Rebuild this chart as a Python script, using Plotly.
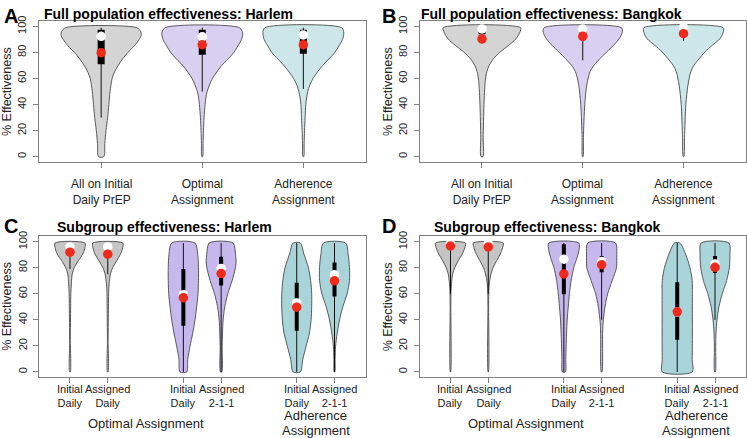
import plotly.graph_objects as go

W, H = 747, 438

# ---------------- data ----------------
# top panels (A: Harlem, B: Bangkok) - full population
top_positions = [1, 2, 3]
top_labels_line1 = ["All on Initial", "Optimal", "Adherence"]
top_labels_line2 = ["Daily PrEP", "Assignment", "Assignment"]

# bottom panels (C: Harlem, D: Bangkok) - subgroups
bottom_positions = [1, 2, 4, 5, 7, 8]
bottom_labels_line1 = ["Initial", "Assigned", "Initial", "Assigned", "Initial", "Assigned"]
bottom_labels_line2 = ["Daily", "Daily", "Daily", "2-1-1", "Daily", "2-1-1"]
group_label_optimal = "Optimal Assignment"
group_label_adherence = ["Adherence", "Assignment"]

# violin outlines: effectiveness levels (%) and relative half-widths
A1_levels = [0, 10, 20, 30, 40, 50, 60, 65, 70, 75, 80, 85, 90, 93, 96, 99]
A1_widths = [0.066, 0.09, 0.12, 0.16, 0.19, 0.22, 0.27, 0.33, 0.42, 0.53, 0.66, 0.82, 0.94, 0.99, 0.98, 0.88]
A2_levels = [0, 10, 20, 30, 40, 45, 50, 55, 60, 65, 70, 75, 80, 85, 90, 95, 99]
A2_widths = [0.01, 0.02, 0.03, 0.045, 0.07, 0.09, 0.12, 0.18, 0.25, 0.36, 0.48, 0.64, 0.78, 0.88, 0.97, 1.0, 0.92]
A3_levels = [0, 10, 20, 30, 40, 45, 50, 55, 60, 65, 70, 75, 80, 85, 90, 95, 99]
A3_widths = [0.01, 0.02, 0.03, 0.045, 0.06, 0.08, 0.11, 0.16, 0.24, 0.35, 0.48, 0.63, 0.78, 0.88, 0.97, 1.0, 0.95]

B1_levels = [0, 14.6, 40, 57.6, 65.2, 70.2, 75.3, 80.3, 85.4, 90.4, 95.5, 99]
B1_widths = [0.025, 0.03, 0.05, 0.08, 0.12, 0.18, 0.29, 0.45, 0.66, 0.84, 0.94, 0.96]
B2_levels = [0, 14.6, 40, 55, 65.2, 70.2, 75.3, 80.3, 85.4, 90.4, 95.5, 99]
B2_widths = [0.008, 0.016, 0.05, 0.10, 0.18, 0.28, 0.43, 0.59, 0.76, 0.90, 0.98, 0.96]
B3_levels = [0, 14.6, 40, 55, 65.2, 70.2, 75.3, 80.3, 85.4, 90.4, 95.5, 99]
B3_widths = [0.008, 0.025, 0.057, 0.11, 0.18, 0.26, 0.39, 0.53, 0.71, 0.90, 0.985, 0.985]

C1_levels = [0, 24.7, 50, 60.1, 67.7, 75.3, 80.3, 85.4, 90.4, 95.5, 99]
C1_widths = [0.022, 0.022, 0.044, 0.055, 0.09, 0.15, 0.29, 0.55, 0.84, 0.99, 0.99]
C2_levels = [0, 24.7, 50, 60.1, 67.7, 75.3, 80.3, 85.4, 90.4, 95.5, 99]
C2_widths = [0.022, 0.022, 0.044, 0.055, 0.09, 0.18, 0.33, 0.59, 0.84, 0.99, 0.99]
C3_levels = [0, 9.6, 19.7, 29.8, 39.9, 50, 60.1, 70.2, 80.3, 90.4, 99]
C3_widths = [0.22, 0.29, 0.44, 0.62, 0.77, 0.88, 0.97, 1.0, 1.0, 0.95, 0.77]
C4_levels = [0, 19.7, 29.8, 39.9, 50, 60.1, 70.2, 80.3, 85.4, 90.4, 99]
C4_widths = [0.044, 0.066, 0.09, 0.13, 0.24, 0.44, 0.73, 0.95, 0.99, 0.95, 0.79]
C5_levels = [0, 9.6, 19.7, 29.8, 39.9, 50, 60.1, 70.2, 80.3, 90.4, 99]
C5_widths = [0.24, 0.40, 0.62, 0.84, 0.95, 0.99, 0.99, 0.92, 0.77, 0.48, 0.24]
C6_levels = [0, 9.6, 19.7, 29.8, 39.9, 50, 60.1, 70.2, 80.3, 90.4, 99]
C6_widths = [0.02, 0.04, 0.07, 0.18, 0.33, 0.55, 0.84, 0.99, 0.99, 0.9, 0.73]

D1_levels = [0, 50, 60.1, 67.7, 75.3, 80.3, 85.4, 90.4, 95.5, 99]
D1_widths = [0.011, 0.022, 0.033, 0.066, 0.15, 0.29, 0.51, 0.77, 0.95, 0.99]
D2_levels = [0, 50, 60.1, 67.7, 75.3, 80.3, 85.4, 90.4, 95.5, 99]
D2_widths = [0.011, 0.022, 0.033, 0.066, 0.18, 0.33, 0.55, 0.79, 0.95, 0.99]
D3_levels = [0, 9.6, 19.7, 29.8, 39.9, 50, 60.1, 70.2, 80.3, 87.9, 92.9, 99]
D3_widths = [0.10, 0.13, 0.15, 0.18, 0.22, 0.29, 0.37, 0.48, 0.66, 0.88, 0.99, 0.99]
D4_levels = [0, 29.8, 39.9, 50, 60.1, 70.2, 80.3, 85.4, 90.4, 99]
D4_widths = [0.022, 0.066, 0.11, 0.22, 0.40, 0.70, 0.99, 1.0, 1.0, 0.92]
D5_levels = [0, 9.6, 19.7, 29.8, 39.9, 50, 60.1, 70.2, 80.3, 90.4, 99]
D5_widths = [0.99, 0.99, 1.0, 1.0, 1.0, 1.0, 1.0, 0.99, 0.84, 0.55, 0.18]
D6_levels = [0, 19.7, 29.8, 39.9, 50, 60.1, 70.2, 80.3, 90.4, 99]
D6_widths = [0.022, 0.044, 0.066, 0.13, 0.26, 0.48, 0.77, 0.95, 0.99, 0.92]

# box summaries
A_q1 = [71, 78.3, 79]
A_q3 = [97.5, 97.5, 97.5]
A_lo = [30, 50, 52]
A_hi = [99, 99, 99]
A_median = [92.4, 92, 93.4]
A_mean = [79.8, 85.9, 85.9]

B_q1 = [94, 90.4, 97]
B_q3 = [98.5, 98, 98.5]
B_lo = [90, 74, 89]
B_hi = [99, 99, 99]
B_median = [98, 98, 99]
B_mean = [90.4, 92.4, 94.4]

C_q1 = [94, 94, 35.4, 66.4, 31.6, 58]
C_q3 = [98, 98, 79, 88.4, 68.4, 84]
C_lo = [79, 75, 0, 0, 0, 0]
C_hi = [99, 99, 99, 99, 99, 99]
C_median = [96, 96, 59.3, 79.5, 53, 74.7]
C_mean = [92, 90.4, 57, 75.5, 49.7, 70]

D_q1 = [97, 97, 59.6, 76.5, 24.7, 76]
D_q3 = [99, 99, 98, 89, 68.9, 89]
D_lo = [60, 60, 0, 40, 0, 40]
D_hi = [99, 99, 99, 99, 99, 99]
D_median = [98.5, 98.5, 86.6, 84.8, 46, 82.8]
D_mean = [96.7, 96, 75.3, 82.3, 46.2, 80.3]

y_ticks = [0, 20, 40, 60, 80, 100]

# ---------------- styling ----------------
top_colors = ["#d4d4d4", "#d8d0f1", "#cde6ea"]
bottom_colors = ["#c5c5c5", "#c5c5c5", "#c6b8ed", "#c6b8ed", "#a9d5da", "#a9d5da"]
RED = "#ef2b1c"
FRAME = "#808080"
TXT = "#222222"
FONT = "Liberation Sans, Arial"


def px_x(p):
    return p / W


def px_y(p):
    return 1 - p / H


panels = [
    dict(name="A", pos=top_positions, colors=top_colors,
         shapes=[(A1_levels, A1_widths), (A2_levels, A2_widths), (A3_levels, A3_widths)],
         q1=A_q1, q3=A_q3, lo=A_lo, hi=A_hi, med=A_median, mean=A_mean,
         xdom=(38.5, 366), ydom=(15.4, 158), xr=[0.38, 3.62], boxw=7,
         title="Full population effectiveness: Harlem", title_x=42, title_y=8, letter_x=2, letter_y=10),
    dict(name="B", pos=top_positions, colors=top_colors,
         shapes=[(B1_levels, B1_widths), (B2_levels, B2_widths), (B3_levels, B3_widths)],
         q1=B_q1, q3=B_q3, lo=B_lo, hi=B_hi, med=B_median, mean=B_mean,
         xdom=(419.5, 746), ydom=(15.4, 158), xr=[0.38, 3.62], boxw=7,
         title="Full population effectiveness: Bangkok", title_x=419, title_y=8, letter_x=380, letter_y=10),
    dict(name="C", pos=bottom_positions, colors=bottom_colors,
         shapes=[(C1_levels, C1_widths), (C2_levels, C2_widths), (C3_levels, C3_widths),
                 (C4_levels, C4_widths), (C5_levels, C5_widths), (C6_levels, C6_widths)],
         q1=C_q1, q3=C_q3, lo=C_lo, hi=C_hi, med=C_median, mean=C_mean,
         xdom=(39, 365.5), ydom=(233.7, 376.3), xr=[0.18, 8.82], boxw=4,
         title="Subgroup effectiveness: Harlem", title_x=55, title_y=224, letter_x=2, letter_y=223),
    dict(name="D", pos=bottom_positions, colors=bottom_colors,
         shapes=[(D1_levels, D1_widths), (D2_levels, D2_widths), (D3_levels, D3_widths),
                 (D4_levels, D4_widths), (D5_levels, D5_widths), (D6_levels, D6_widths)],
         q1=D_q1, q3=D_q3, lo=D_lo, hi=D_hi, med=D_median, mean=D_mean,
         xdom=(419.5, 746), ydom=(233.7, 376.3), xr=[0.18, 8.82], boxw=4,
         title="Subgroup effectiveness: Bangkok", title_x=432, title_y=224, letter_x=380, letter_y=223),
]

fig = go.Figure()
annotations = []
layout_axes = {}


def label(text, x, xref, ypix, size, yref="paper"):
    return dict(text=text, x=x, xref=xref, y=px_y(ypix), yref=yref, xanchor="center", yanchor="middle",
                showarrow=False, font=dict(family=FONT, size=size, color=TXT))


for i, p in enumerate(panels):
    k = i + 1
    xa = "x" if k == 1 else f"x{k}"
    ya = "y" if k == 1 else f"y{k}"
    xkey = "xaxis" if k == 1 else f"xaxis{k}"
    ykey = "yaxis" if k == 1 else f"yaxis{k}"
    layout_axes[xkey] = dict(
        domain=[px_x(p["xdom"][0]), px_x(p["xdom"][1])], range=p["xr"], anchor=ya,
        showgrid=False, zeroline=False, showline=True, mirror=True, linecolor=FRAME, linewidth=1,
        ticks="outside", ticklen=5, tickcolor=FRAME, tickvals=p["pos"], showticklabels=False,
        fixedrange=True,
    )
    layout_axes[ykey] = dict(
        domain=[px_y(p["ydom"][1]), px_y(p["ydom"][0])], range=[-4, 104], anchor=xa,
        showgrid=False, zeroline=False, showline=True, mirror=True, linecolor=FRAME, linewidth=1,
        ticks="outside", ticklen=5, tickcolor=FRAME, tickvals=y_ticks, tickangle=-90,
        tickfont=dict(family=FONT, size=11, color=TXT), ticklabelstandoff=2, fixedrange=True,
    )

    for j, pos in enumerate(p["pos"]):
        levels, widths = p["shapes"][j]
        xs = [pos + w * 0.4 for w in widths] + [pos - w * 0.4 for w in reversed(widths)] + [pos + widths[0] * 0.4]
        ys = list(levels) + list(reversed(levels)) + [levels[0]]
        fig.add_trace(go.Scatter(x=xs, y=ys, xaxis=xa, yaxis=ya, mode="lines", fill="toself",
                                 fillcolor=p["colors"][j],
                                 line=dict(color="#4a4a4a", width=0.9, shape="spline", smoothing=0.8),
                                 hoverinfo="skip", showlegend=False))
        fig.add_trace(go.Scatter(x=[pos, pos], y=[p["lo"][j], p["hi"][j]], xaxis=xa, yaxis=ya,
                                 mode="lines", line=dict(color="#111111", width=1),
                                 hoverinfo="skip", showlegend=False))
        fig.add_trace(go.Scatter(x=[pos, pos], y=[p["q1"][j], p["q3"][j]], xaxis=xa, yaxis=ya,
                                 mode="lines", line=dict(color="black", width=p["boxw"]),
                                 hoverinfo="skip", showlegend=False))
        fig.add_trace(go.Scatter(x=[pos], y=[p["med"][j]], xaxis=xa, yaxis=ya, mode="markers",
                                 marker=dict(color="white", size=9.5, line=dict(width=0)),
                                 hoverinfo="skip", showlegend=False))
        fig.add_trace(go.Scatter(x=[pos], y=[p["mean"][j]], xaxis=xa, yaxis=ya, mode="markers",
                                 marker=dict(color=RED, size=9.5, line=dict(width=0)),
                                 hoverinfo="skip", showlegend=False))

    # panel letter and title
    annotations.append(dict(text=f"<b>{p['name']}</b>", x=px_x(p["letter_x"]), y=px_y(p["letter_y"]),
                            xref="paper", yref="paper", xanchor="left", yanchor="middle", showarrow=False,
                            font=dict(family=FONT, size=20, color="black")))
    annotations.append(dict(text=f"<b>{p['title']}</b>", x=px_x(p["title_x"]), y=px_y(p["title_y"]),
                            xref="paper", yref="paper", xanchor="left", yanchor="middle", showarrow=False,
                            font=dict(family=FONT, size=14, color="black")))
    # y title
    annotations.append(dict(text="% Effectiveness", x=px_x(p["xdom"][0] - 32),
                            y=px_y((p["ydom"][0] + p["ydom"][1]) / 2),
                            xref="paper", yref="paper", xanchor="center", yanchor="middle", showarrow=False,
                            textangle=-90, font=dict(family=FONT, size=12.5, color=TXT)))

    if p["name"] in ("A", "B"):
        for j, pos in enumerate(p["pos"]):
            annotations.append(label(top_labels_line1[j] + "<br>" + top_labels_line2[j], pos, xa, 188.5, 12))
    else:
        for j, pos in enumerate(p["pos"]):
            annotations.append(label(bottom_labels_line1[j] + "<br>" + bottom_labels_line2[j], pos, xa, 395.5, 11))
        annotations.append(label(group_label_optimal, 3, xa, 423, 13))
        annotations.append(label(group_label_adherence[0], 7.5, xa, 415, 13))
        annotations.append(label(group_label_adherence[1], 7.5, xa, 430, 13))

fig.update_layout(
    width=W, height=H, margin=dict(l=0, r=0, t=0, b=0),
    paper_bgcolor="white", plot_bgcolor="white",
    showlegend=False, annotations=annotations, **layout_axes,
)

fig.write_html(
    "out.html",
    config={"displayModeBar": False, "staticPlot": True},
    post_script="document.body.style.margin='0';document.body.style.padding='0';"
                "document.documentElement.style.overflow='hidden';",
)
